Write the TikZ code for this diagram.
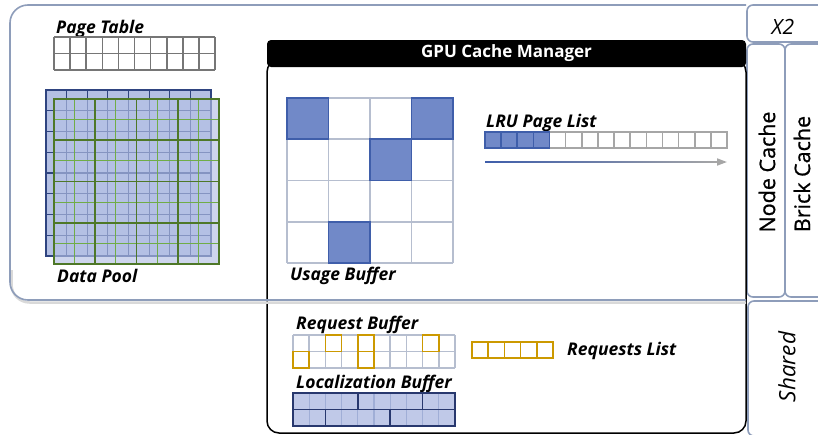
\documentclass[tikz,border=0pt]{standalone}
\usepackage{fontspec}
\setmainfont{Open Sans}
\newfontfamily\semifont[FakeBold=0.8]{Open Sans}
\usetikzlibrary{arrows.meta}

\definecolor{framegrey}{RGB}{142,157,186}
\definecolor{tablegrey}{RGB}{118,118,118}
\definecolor{poolnavy}{RGB}{47,68,128}
\definecolor{poolfill}{RGB}{180,192,228}
\definecolor{poolgreen}{RGB}{78,120,40}
\definecolor{poollight}{RGB}{112,173,71}
\definecolor{gridgrey}{RGB}{182,190,207}
\definecolor{usedfill}{RGB}{113,137,200}
\definecolor{usedline}{RGB}{63,94,170}
\definecolor{listgrey}{RGB}{166,166,166}
\definecolor{reqgold}{RGB}{204,153,0}
\definecolor{locfill}{RGB}{192,201,232}
\definecolor{locline}{RGB}{160,174,214}
\definecolor{locnavy}{RGB}{40,56,110}

\begin{document}
\begin{tikzpicture}[x=1pt,y=-1pt,
        frame/.style={draw=framegrey,line width=1.6pt,fill=white,rounded corners=6pt},
        caption/.style={font=\fontsize{17.5}{19}\selectfont\bfseries\itshape,anchor=west,inner sep=0pt,yshift=-2.5pt},
        side/.style={font=\fontsize{21.5}{23}\selectfont\semifont,inner sep=0pt,rotate=90},
        cell/.style={line width=1.6pt}]
    \useasboundingbox (0,0) rectangle (818,434);
    \clip (0,0) rectangle (818,434);

    % Host memory box
    \path[fill=white,rounded corners=18pt] (10,5) rectangle (760,300);

    % Side panels
    \draw[frame] (747,5) rectangle (830,42);
    \node[font=\fontsize{21}{23}\selectfont\itshape,inner sep=0pt] (x2) at (783,27) {X2};
    \draw[frame] (747,44) rectangle (785,297);
    \draw[frame] (785,44) rectangle (830,297);
    \node[side] (nodecache) at (767,172) {Node Cache};
    \node[side] (brickcache) at (802,174) {Brick Cache};
    \draw[frame] (748,301) rectangle (830,436);
    \node[inner sep=0pt,rotate=90,font=\fontsize{22.5}{24}\selectfont\itshape] (shared) at (787,367) {Shared};

    % GPU cache manager
    \draw[black,line width=1.5pt,fill=white,rounded corners=12pt] (267,60) rectangle (746,433);
    \node[fill=black,rounded corners=4pt,minimum width=479pt,minimum height=27pt,inner sep=0pt,
          text=white,font=\fontsize{17}{19}\selectfont\bfseries] (gpuhead) at (506.5,53.5) {GPU Cache Manager};

    % Host box border and shadow over the manager
    \draw[black!15,line width=2.5pt,rounded corners=18pt] (11.5,270) -- (11.5,302.5) -- (746,302.5);
    \draw[framegrey,line width=1.6pt,rounded corners=18pt] (746,5) -- (10,5) -- (10,300) -- (746,300);

    % Page table
    \node[caption] (pagetable) at (56,26) {Page Table};
    \foreach \i in {0,...,10}
        \draw[tablegrey,cell] ({54+16.1*\i},37) -- ++(0,33);
    \foreach \j in {0,1,2}
        \draw[tablegrey,cell] (54,{37+16.5*\j}) -- ++(161,0);

    % Data pool, back layer
    \fill[poolfill] (46,90) rectangle (211,256);
    \foreach \i in {1,...,7} {
        \draw[poolnavy,line width=1.2pt] ({46+20.625*\i},90) -- ++(0,166);
        \draw[poolnavy,line width=1.2pt] (46,{90+20.75*\i}) -- ++(165,0);
    }
    \draw[poolnavy,line width=1.6pt] (46,90) rectangle (211,256);

    % Data pool, front layer
    \fill[poolfill,opacity=0.65] (54,99) rectangle (219,264);
    \foreach \i in {1,3,5,7} {
        \draw[poollight,line width=1.2pt] ({54+20.625*\i},99) -- ++(0,165);
        \draw[poollight,line width=1.2pt] (54,{99+20.625*\i}) -- ++(165,0);
    }
    \foreach \i in {1,2,3} {
        \draw[poolgreen,line width=1.8pt] ({54+41.25*\i},99) -- ++(0,165);
        \draw[poolgreen,line width=1.8pt] (54,{99+41.25*\i}) -- ++(165,0);
    }
    \draw[poolgreen,line width=1.8pt] (54,99) rectangle (219,264);
    \node[caption] (datapool) at (57,273) {Data Pool};

    % Usage buffer
    \foreach \i in {0,...,4} {
        \draw[gridgrey,cell] ({287+41.5*\i},98) -- ++(0,165);
        \draw[gridgrey,cell] (287,{98+41.25*\i}) -- ++(166,0);
    }
    \foreach \c/\r in {0/0,3/0,2/1,1/3}
        \draw[usedline,fill=usedfill,cell] ({287+41.5*\c},{98+41.25*\r}) rectangle ++(41.5,41.25);
    \node[caption] (usage) at (290,273) {Usage Buffer};

    % LRU page list
    \node[caption] (lru) at (486,120) {LRU Page List};
    \foreach \i in {4,...,14}
        \draw[listgrey,cell] ({485+16.13*\i},132) rectangle ++(16.13,16);
    \foreach \i in {0,...,3}
        \draw[usedline,fill=usedfill,cell] ({485+16.13*\i},132) rectangle ++(16.13,16);
    \coordinate (lruS) at (485,162);
    \coordinate (lruM) at (716,162);
    \coordinate (lruE) at (727,162);
    \shade[left color=usedline,right color=listgrey,middle color=usedline!55!listgrey]
        (485,161.1) rectangle (717,162.9);
    \draw[listgrey,line width=1.8pt,-{Triangle[length=10pt,width=7pt]}] (lruM) -- (lruE);

    % Request buffer
    \node[caption] (request) at (296,322) {Request Buffer};
    \foreach \i in {0,...,10}
        \draw[gridgrey,cell] ({293+16.2*\i},335) -- ++(0,33);
    \foreach \j in {0,1,2}
        \draw[gridgrey,cell] (293,{335+16.5*\j}) -- ++(162,0);
    \foreach \c/\r in {2/0,4/0,8/0,0/1,4/1}
        \draw[reqgold,cell] ({293+16.2*\c},{335+16.5*\r}) rectangle ++(16.2,16.5);

    % Requests list
    \foreach \i in {0,...,4}
        \draw[reqgold,cell] ({472+16.2*\i},342) rectangle ++(16.2,16);
    \node[caption] (reqlist) at (567,348) {Requests List};

    % Localization buffer
    \node[caption] (local) at (296,381) {Localization Buffer};
    \fill[locfill] (293,393) rectangle (455,426);
    \foreach \i in {1,...,9}
        \draw[locline,line width=1.2pt] ({293+16.2*\i},393) -- ++(0,33);
    \draw[locnavy,cell] (293,409.5) -- ++(162,0);
    \foreach \x in {357.8,422.6}
        \draw[locnavy,cell] (\x,393) -- ++(0,16.5);
    \foreach \x in {325.4,390.2}
        \draw[locnavy,cell] (\x,409.5) -- ++(0,16.5);
    \draw[locnavy,cell] (293,393) rectangle (455,426);
\end{tikzpicture}
\end{document}
